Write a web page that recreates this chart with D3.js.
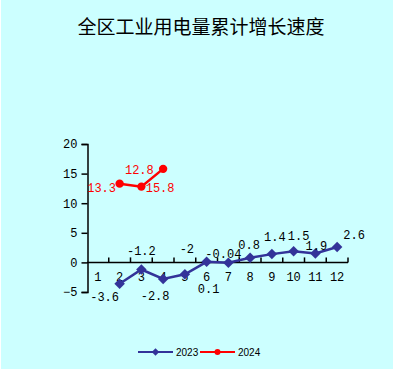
<!DOCTYPE html>
<html>
<head>
<meta charset="utf-8">
<script src="https://cdn.jsdelivr.net/npm/d3@7"></script>
<style>
  html, body { margin: 0; padding: 0; background: #ffffff; }
  svg { display: block; }
</style>
</head>
<body>
<script>
const months = ['1', '2', '3', '4', '5', '6', '7', '8', '9', '10', '11', '12'];
const values2023 = [null, -3.6, -1.2, -2.8, -2, 0.1, -0.04, 0.8, 1.4, 1.9, 1.5, 2.6];
const labels2023 = [null, '-3.6', '-1.2', '-2.8', '-2', '0.1', '-0.04', '0.8', '1.4', '1.5', '1.9', '2.6'];
const values2024 = [null, 13.3, 12.8, 15.8, null, null, null, null, null, null, null, null];
const labels2024 = [null, '13.3', '12.8', '15.8', null, null, null, null, null, null, null, null];
const yTicks = [-5, 0, 5, 10, 15, 20];
const seriesNames = ['2023', '2024'];

// where each data label sits relative to its point, in pixels
const offsets2023 = [null, [-15, 13], [0, -19], [-8, 17], [2, -25], [2, 27], [-5, -9], [-1, -13], [3, -17], [5, -15], [1, -8], [17, -12]];
const offsets2024 = [null, [-18, 4], [-2, -17], [-3, 19]];

const width = 393;
const height = 370;
const colours = ['#333399', '#ff0000'];
const labelFont = '"Liberation Mono", "DejaVu Sans Mono", monospace';

const svg = d3.select('body')
              .append('svg')
                .attr('width', width)
                .attr('height', height);

svg.append('rect')
   .attr('x', 1)
   .attr('y', 0)
   .attr('width', width - 1)
   .attr('height', height - 1)
   .attr('fill', '#ccffff');

// title
svg.append('text')
   .attr('x', 201)
   .attr('y', 34)
   .attr('text-anchor', 'middle')
   .attr('font-family', '"Noto Sans CJK SC", sans-serif')
   .attr('font-size', 19)
   .attr('fill', '#000')
   .text('全区工业用电量累计增长速度');

const xScale = d3.scaleBand()
                 .domain(months)
                 .range([87, 348]);

const yScale = d3.scaleLinear()
                 .domain([-5, 20])
                 .range([292, 144]);

// y axis
const yAxis = svg.append('g')
                 .attr('transform', 'translate(87.5, 0)')
                 .call(d3.axisLeft(yScale).tickValues(yTicks).tickSize(6).tickPadding(4));
yAxis.select('.domain').attr('stroke', '#000').attr('stroke-width', 1.5);
yAxis.selectAll('.tick line').attr('stroke', '#000').attr('stroke-width', 1.5);
yAxis.selectAll('text')
     .attr('font-family', labelFont)
     .attr('font-size', 12)
     .attr('fill', '#000');

// x axis along zero, ticks between categories pointing up
const zeroY = yScale(0);
svg.append('line')
   .attr('x1', xScale.range()[0])
   .attr('x2', xScale.range()[1])
   .attr('y1', zeroY)
   .attr('y2', zeroY)
   .attr('stroke', '#000')
   .attr('stroke-width', 1.5);

svg.selectAll('.xtick')
   .data(months.slice(1).concat(['end']))
   .enter()
     .append('line')
       .attr('class', 'xtick')
       .attr('x1', (m) => m === 'end' ? xScale.range()[1] : xScale(m))
       .attr('x2', (m) => m === 'end' ? xScale.range()[1] : xScale(m))
       .attr('y1', zeroY)
       .attr('y2', zeroY - 5)
       .attr('stroke', '#000')
       .attr('stroke-width', 1.5);

svg.selectAll('.xlabel')
   .data(months)
   .enter()
     .append('text')
       .attr('class', 'xlabel')
       .attr('x', (m) => xScale(m) + xScale.bandwidth() / 2)
       .attr('y', zeroY + 19)
       .attr('text-anchor', 'middle')
       .attr('font-family', labelFont)
       .attr('font-size', 12)
       .attr('fill', '#000')
       .text((m) => m);

const cx = (i) => xScale(months[i]) + xScale.bandwidth() / 2;

function drawSeries(values, labels, offsets, colour, marker) {
    const pts = values.map((v, i) => ({i: i, v: v, label: labels[i], off: offsets[i]}))
                      .filter((p) => p.v !== null);

    const line = d3.line()
                   .x((p) => cx(p.i))
                   .y((p) => yScale(p.v));

    svg.append('path')
       .datum(pts)
       .attr('d', line)
       .attr('fill', 'none')
       .attr('stroke', colour)
       .attr('stroke-width', 2.5);

    svg.selectAll(null)
       .data(pts)
       .enter()
         .append('path')
           .attr('transform', (p) => `translate(${cx(p.i)}, ${yScale(p.v)})`)
           .attr('d', marker)
           .attr('fill', colour);

    svg.selectAll(null)
       .data(pts)
       .enter()
         .append('text')
           .attr('x', (p) => cx(p.i) + p.off[0])
           .attr('y', (p) => yScale(p.v) + p.off[1] + 4)
           .attr('text-anchor', 'middle')
           .attr('font-family', labelFont)
           .attr('font-size', 12)
           .attr('fill', colour === colours[1] ? colour : '#000')
           .text((p) => p.label);
}

const diamond = d3.symbol().type(d3.symbolDiamond2).size(70)();
const circle = d3.symbol().type(d3.symbolCircle).size(55)();

drawSeries(values2023, labels2023, offsets2023, colours[0], diamond);
drawSeries(values2024, labels2024, offsets2024, colours[1], circle);

// legend
const legend = svg.selectAll('.legend')
                  .data(seriesNames)
                  .enter()
                    .append('g')
                      .attr('class', 'legend')
                      .attr('transform', (d, i) => `translate(${138 + i * 62}, 352)`);

legend.append('line')
      .attr('x1', 0)
      .attr('x2', 35)
      .attr('stroke', (d, i) => colours[i])
      .attr('stroke-width', 2);

legend.append('path')
      .attr('transform', 'translate(17.5, 0)')
      .attr('d', (d, i) => i === 0 ? d3.symbol().type(d3.symbolDiamond2).size(35)() : d3.symbol().type(d3.symbolCircle).size(28)())
      .attr('fill', (d, i) => colours[i]);

legend.append('text')
      .attr('x', 38)
      .attr('y', 3.5)
      .attr('font-family', '"Liberation Sans", Arial, sans-serif')
      .attr('font-size', 10)
      .attr('fill', '#000')
      .text((d) => d);
</script>
</body>
</html>
